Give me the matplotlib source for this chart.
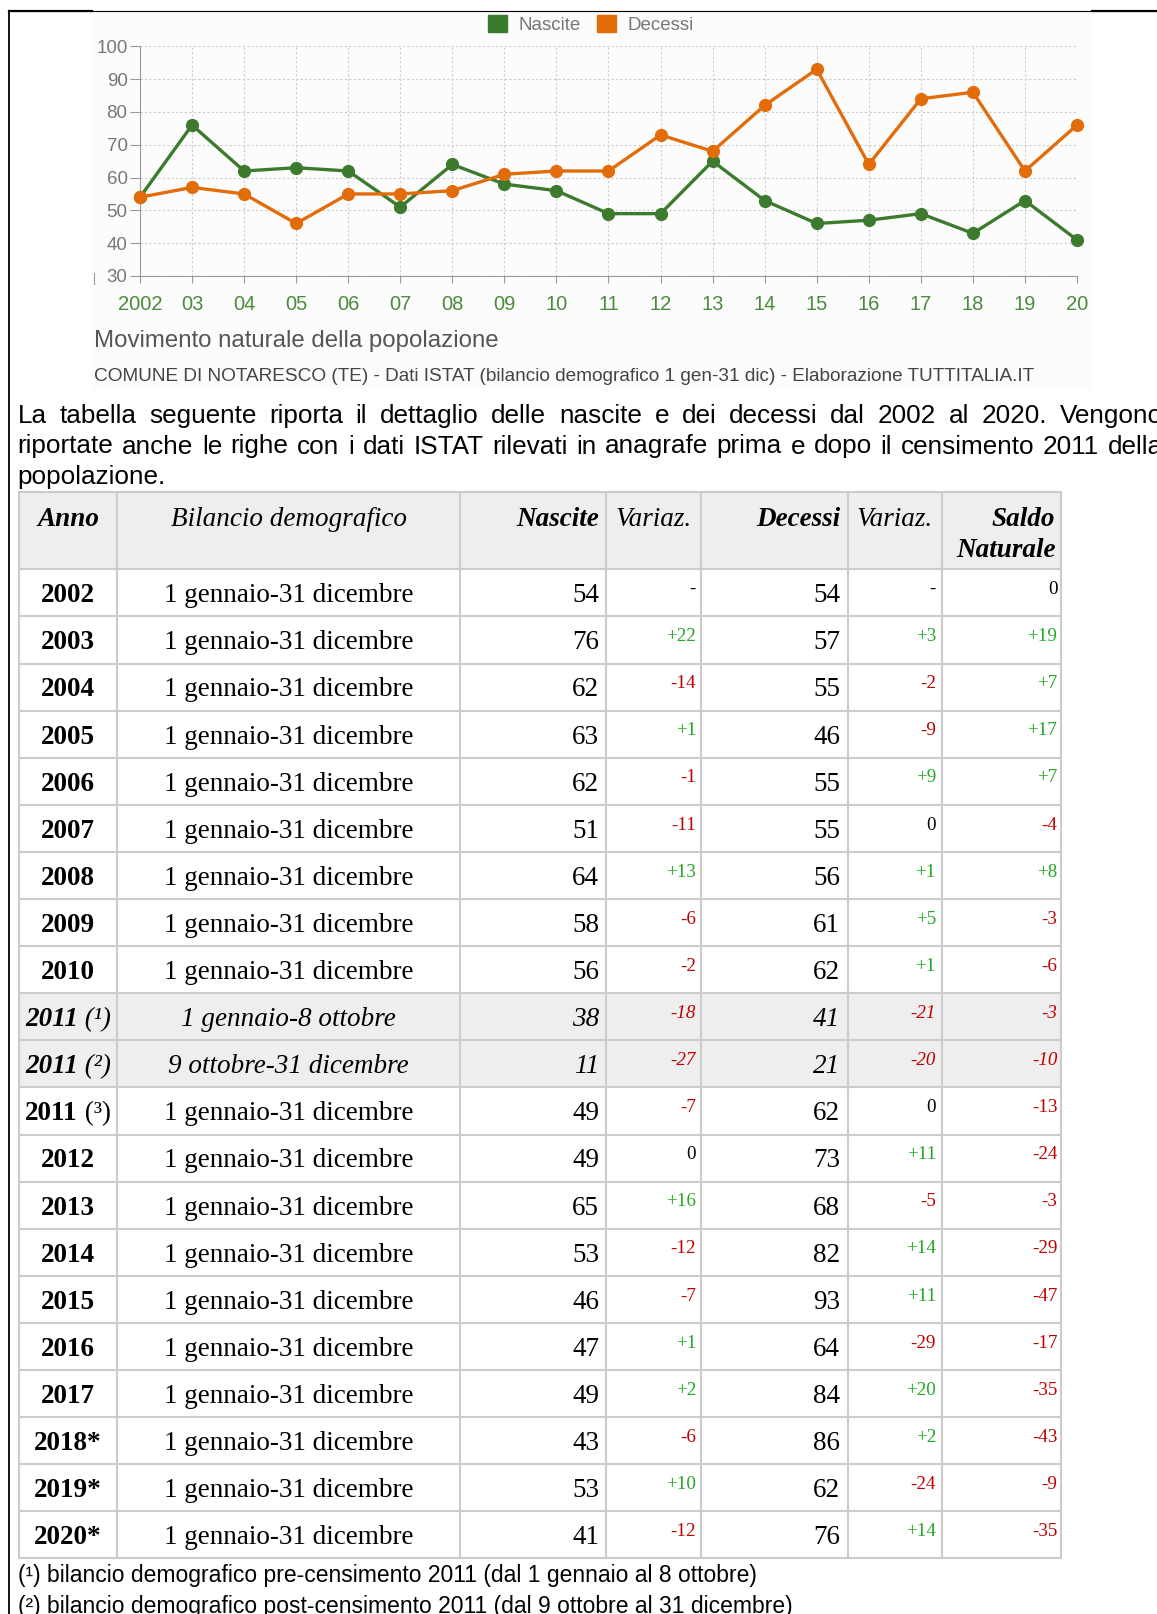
import matplotlib
matplotlib.use('Agg')
import matplotlib.pyplot as plt
from matplotlib.patches import Rectangle, Patch

W, H = 1157, 1614
GREEN = '#3c7b2e'
ORANGE = '#e36c0a'
SANS = ['Liberation Sans Narrow', 'Liberation Sans', 'DejaVu Sans']
SERIF = ['Liberation Serif', 'DejaVu Serif']

# chart data
years = list(range(2002, 2021))
year_labels = ['2002', '03', '04', '05', '06', '07', '08', '09', '10', '11',
               '12', '13', '14', '15', '16', '17', '18', '19', '20']
nascite_chart = [54, 76, 62, 63, 62, 51, 64, 58, 56, 49, 49, 65, 53, 46, 47, 49, 43, 53, 41]
decessi_chart = [54, 57, 55, 46, 55, 55, 56, 61, 62, 62, 73, 68, 82, 93, 64, 84, 86, 62, 76]

# table data
anno = ['2002', '2003', '2004', '2005', '2006', '2007', '2008', '2009', '2010',
        '2011 (¹)', '2011 (²)', '2011 (³)', '2012', '2013', '2014', '2015',
        '2016', '2017', '2018*', '2019*', '2020*']
bilancio = ['1 gennaio-31 dicembre'] * 9 + ['1 gennaio-8 ottobre', '9 ottobre-31 dicembre'] \
    + ['1 gennaio-31 dicembre'] * 10
nascite = [54, 76, 62, 63, 62, 51, 64, 58, 56, 38, 11, 49, 49, 65, 53, 46, 47, 49, 43, 53, 41]
var_nascite = [None, 22, -14, 1, -1, -11, 13, -6, -2, -18, -27, -7, 0, 16, -12, -7, 1, 2, -6, 10, -12]
decessi = [54, 57, 55, 46, 55, 55, 56, 61, 62, 41, 21, 62, 73, 68, 82, 93, 64, 84, 86, 62, 76]
var_decessi = [None, 3, -2, -9, 9, 0, 1, 5, 1, -21, -20, 0, 11, -5, 14, 11, -29, 20, 2, -24, 14]
saldo = [0, 19, 7, 17, 7, -4, 8, -3, -6, -3, -10, -13, -24, -3, -29, -47, -17, -35, -43, -9, -35]
parziale = [b != '1 gennaio-31 dicembre' for b in bilancio]

paragraph = [
    "La tabella seguente riporta il dettaglio delle nascite e dei decessi dal 2002 al 2020. Vengono",
    "riportate anche le righe con i dati ISTAT rilevati in anagrafe prima e dopo il censimento 2011 della",
    "popolazione.",
]
footnotes = [
    "(¹) bilancio demografico pre-censimento 2011 (dal 1 gennaio al 8 ottobre)",
    "(²) bilancio demografico post-censimento 2011 (dal 9 ottobre al 31 dicembre)",
]

fig = plt.figure(figsize=(W / 100, H / 100), dpi=100)
bg = fig.add_axes([0, 0, 1, 1])
bg.set_xlim(0, W)
bg.set_ylim(H, 0)
bg.axis('off')
renderer = fig.canvas.get_renderer()


def width_of(t):
    return t.get_window_extent(renderer).width


def fit(t, target):
    t.set_fontsize(t.get_fontsize() * target / width_of(t))
    return t.get_fontsize()


def justify(line, x0, x1, y, size, **kw):
    ts = [bg.text(x0, y, w, fontsize=size, va='baseline', **kw) for w in line.split()]
    ws = [width_of(t) for t in ts]
    gap = (x1 - x0 - sum(ws)) / (len(ts) - 1)
    x = x0
    for t, w in zip(ts, ws):
        t.set_x(x)
        x += w + gap


def centered(cx, y, segs, size):
    ts = [bg.text(0, y, s, fontsize=size, family=SERIF, va='baseline', **kw) for s, kw in segs]
    ws = [width_of(t) for t in ts]
    x = cx - sum(ws) / 2
    for t, w in zip(ts, ws):
        t.set_x(x)
        x += w


# frame + chart background
bg.add_patch(Rectangle((91, 12), 1000, 377, facecolor='#fcfcfc', edgecolor='none', zorder=0))
bg.plot([9, W], [11, 11], color='black', lw=0.8)
bg.plot([9, 92], [11, 11], color='black', lw=1.6)
bg.plot([1092, W], [11, 11], color='black', lw=1.6)
bg.plot([9, 9], [11, H], color='black', lw=1.3)
bg.plot([94, 94], [273, 284], color='#999999', lw=0.8)

# line chart
ax = fig.add_axes([140 / W, 1 - 276 / H, (1077 - 140) / W, (276 - 46.3) / H])
ax.set_facecolor('none')
ax.plot(years, nascite_chart, color=GREEN, lw=2.4, marker='o', ms=8.5, clip_on=False, zorder=3)
ax.plot(years, decessi_chart, color=ORANGE, lw=2.4, marker='o', ms=8.5, clip_on=False, zorder=3)
ax.set_xlim(2002, 2020)
ax.set_ylim(30, 100)
ax.set_xticks(years, year_labels, family='Liberation Sans')
ax.set_yticks(range(30, 101, 10))
for lab in ax.get_yticklabels():
    lab.set_family('Liberation Sans')
ax.grid(True, ls=(0, (2, 2)), color='#cccccc', lw=0.8)
for s in ['top', 'right']:
    ax.spines[s].set_visible(False)
for s in ['left', 'bottom']:
    ax.spines[s].set_color('#999999')
ax.tick_params(axis='y', length=7, color='#999999', labelcolor='#777777', labelsize=13.5, pad=2)
ax.tick_params(axis='x', length=5, color='#999999', labelcolor='#4b8b3b', labelsize=14.5, pad=8.5)

fig.legend(handles=[Patch(color=GREEN, label='Nascite'), Patch(color=ORANGE, label='Decessi')],
           loc='upper center', bbox_to_anchor=(591 / W, 1 + 2 / H), ncol=2, frameon=False,
           handlelength=1.0, handleheight=1.0, handletextpad=0.6, columnspacing=0.9,
           prop={'family': 'Liberation Sans', 'size': 13.5}, labelcolor='#777777')

t = bg.text(93.7, 346.5, 'Movimento naturale della popolazione', family=SANS, fontsize=16,
            color='#555555', va='baseline')
fit(t, 405)
t = bg.text(93.7, 381, 'COMUNE DI NOTARESCO (TE) - Dati ISTAT (bilancio demografico 1 gen-31 dic) '
            '- Elaborazione TUTTITALIA.IT', family=SANS, fontsize=12, color='#444444', va='baseline')
fit(t, 946)

# paragraph
probe = bg.text(0, 0, paragraph[1], family=SANS, fontsize=16)
psize = fit(probe, 1125)
probe.remove()
justify(paragraph[0], 17.5, 1163, 423, psize, family=SANS)
justify(paragraph[1], 17.5, 1163, 453.5, psize, family=SANS)
bg.text(17.5, 484, paragraph[2], family=SANS, fontsize=psize, va='baseline')

# table
cols = [18.5, 117.4, 460.1, 606.3, 701.0, 848.2, 941.9, 1061.3]
top, head_bot, row_h = 492, 569.3, 47.1
bottom = head_bot + row_h * len(anno)
GRID = '#cccccc'
BIG, SMALL = 19.5, 13.7

bg.add_patch(Rectangle((cols[0], top), cols[-1] - cols[0], head_bot - top,
                       facecolor='#eeeeee', edgecolor='none', zorder=0))
for i, p in enumerate(parziale):
    if p:
        bg.add_patch(Rectangle((cols[0], head_bot + i * row_h), cols[-1] - cols[0], row_h,
                               facecolor='#eeeeee', edgecolor='none', zorder=0))
for i in range(len(anno) + 1):
    y = head_bot + i * row_h
    bg.plot([cols[0], cols[-1]], [y, y], color=GRID, lw=1.5, zorder=1)
bg.plot([cols[0], cols[-1]], [top, top], color=GRID, lw=1.5, zorder=1)
for x in cols:
    bg.plot([x, x], [top, bottom], color=GRID, lw=1.5, zorder=1)

# header
hb = top + 33.5
bg.text((cols[0] + cols[1]) / 2, hb, 'Anno', family=SERIF, fontsize=BIG, weight='bold',
        style='italic', ha='center', va='baseline')
bg.text((cols[1] + cols[2]) / 2, hb, 'Bilancio demografico', family=SERIF, fontsize=BIG,
        style='italic', ha='center', va='baseline')
bg.text(cols[3] - 7, hb, 'Nascite', family=SERIF, fontsize=BIG, weight='bold',
        style='italic', ha='right', va='baseline')
bg.text(cols[3] + 9, hb, 'Variaz.', family=SERIF, fontsize=BIG, style='italic', va='baseline')
bg.text(cols[5] - 8, hb, 'Decessi', family=SERIF, fontsize=BIG, weight='bold',
        style='italic', ha='right', va='baseline')
bg.text(cols[5] + 8, hb, 'Variaz.', family=SERIF, fontsize=BIG, style='italic', va='baseline')
bg.text(cols[7] - 6, hb, 'Saldo', family=SERIF, fontsize=BIG, weight='bold',
        style='italic', ha='right', va='baseline')
bg.text(cols[7] - 6, hb + 31.5, 'Naturale', family=SERIF, fontsize=BIG, weight='bold',
        style='italic', ha='right', va='baseline')


def fmt(v):
    if v is None:
        return '-'
    return f'+{v}' if v > 0 else str(v)


def colour(v):
    if v is None or v == 0:
        return 'black'
    return '#22a822' if v > 0 else '#c00000'


for i in range(len(anno)):
    rt = head_bot + i * row_h
    yb = rt + 0.70 * row_h
    ys = rt + 0.525 * row_h
    st = 'italic' if parziale[i] else 'normal'
    if ' (' in anno[i]:
        y0, note = anno[i].split(' ', 1)
        centered((cols[0] + cols[1]) / 2, yb,
                 [(y0, {'weight': 'bold', 'style': st}), (' ' + note, {'style': st})], BIG)
    else:
        centered((cols[0] + cols[1]) / 2, yb, [(anno[i], {'weight': 'bold', 'style': st})], BIG)
    bg.text((cols[1] + cols[2]) / 2, yb, bilancio[i], family=SERIF, fontsize=BIG, style=st,
            ha='center', va='baseline')
    bg.text(cols[3] - 7, yb, str(nascite[i]), family=SERIF, fontsize=BIG, style=st,
            ha='right', va='baseline')
    bg.text(cols[4] - 5, ys, fmt(var_nascite[i]), family=SERIF, fontsize=SMALL, style=st,
            color=colour(var_nascite[i]), ha='right', va='baseline')
    bg.text(cols[5] - 8, yb, str(decessi[i]), family=SERIF, fontsize=BIG, style=st,
            ha='right', va='baseline')
    bg.text(cols[6] - 6, ys, fmt(var_decessi[i]), family=SERIF, fontsize=SMALL, style=st,
            color=colour(var_decessi[i]), ha='right', va='baseline')
    bg.text(cols[7] - 4, ys, fmt(saldo[i]), family=SERIF, fontsize=SMALL, style=st,
            color=colour(saldo[i]), ha='right', va='baseline')

# footnotes
t = bg.text(18.5, 1582, footnotes[0], family=SANS, fontsize=15, va='baseline')
fsize = fit(t, 739)
bg.text(18.5, 1613, footnotes[1], family=SANS, fontsize=fsize, va='baseline')

fig.savefig('out.png', dpi=100)
